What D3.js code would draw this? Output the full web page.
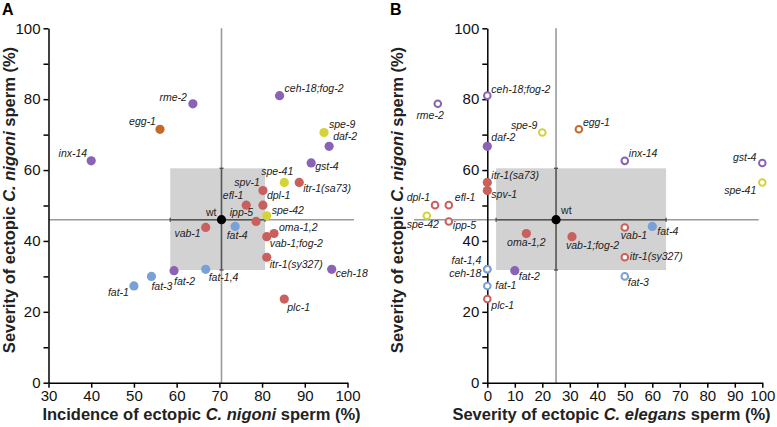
<!DOCTYPE html>
<html><head><meta charset="utf-8">
<script src="https://cdn.jsdelivr.net/npm/d3@7"></script>
<style>
html,body{margin:0;padding:0;background:#fff;}
svg{display:block;font-family:"Liberation Sans",Arial,Helvetica,sans-serif;}
</style></head>
<body><svg id="c" width="777" height="427"></svg>
<script>
// ---------- data ----------
const genes = ["wt","rme-2","egg-1","inx-14","ceh-18;fog-2","spe-9","daf-2","gst-4","spe-41","itr-1(sa73)","spv-1","efl-1","dpl-1","spe-42","ipp-5","vab-1","fat-4","oma-1,2","vab-1;fog-2","itr-1(sy327)","ceh-18","fat-1,4","fat-2","fat-3","fat-1","plc-1"];
const geneGroup = ["wt","g1","g2","g1","g1","g3","g1","g1","g3","g4","g4","g4","g4","g3","g4","g4","g5","g4","g4","g4","g1","g5","g1","g5","g5","g4"];
// Panel A x: incidence of ectopic C. nigoni sperm (%)
const incidenceNigoni = [70.5,63.8,56.1,40.0,84.1,94.5,95.7,91.5,85.2,88.7,80.2,76.3,80.2,81.1,78.6,66.8,73.7,82.8,81.1,81.1,96.3,66.8,59.4,54.1,50.0,85.2];
// y in both panels: severity of ectopic C. nigoni sperm (%)
const severityNigoni = [46.0,78.7,71.5,62.6,81.0,70.6,66.7,62.0,56.5,56.5,54.2,50.1,50.1,47.1,45.5,43.8,44.1,42.1,41.2,35.4,32.0,32.0,31.6,30.0,27.3,23.6];
// Panel B x: severity of ectopic C. elegans sperm (%)
const severityElegans = [25,-18,33.3,50,0,20,0,100,100,0,0,-14,-19,-22,-14,50,60,14.2,30.8,50,0,0,10,50,0,0];
const filledB = [1,0,0,0,0,0,1,0,0,1,1,0,0,0,0,0,1,1,1,0,0,0,1,0,0,0];
// wild-type spread boxes
const boxAX = [58.5,80.7], boxAY = [31.8,60.5];
const boxBX = [3.2,65.0],  boxBY = [31.8,60.5];
// reference line extents
const crossAX = [30,101.5], crossBX = [-26.6,98.7], crossY = [0,100];
const xTicksA = d3.range(30,101,10), xTicksB = d3.range(0,101,10), yTicks = d3.range(0,101,10);

// ---------- layout (label placement, not data) ----------
const labA = {"wt":["end",-5,-4],"rme-2":["end",-6,-3],"egg-1":["end",-4,-4],"inx-14":["end",-4,-4],"ceh-18;fog-2":["start",5,-4],"spe-9":["start",5,-4],"daf-2":["start",4,-6],"gst-4":["start",4,7],"spe-41":["end",9,-7],"itr-1(sa73)":["start",4,10],"spv-1":["end",-3,-5],"efl-1":["end",-3,-6],"dpl-1":["start",4,-6],"spe-42":["start",5,-2],"ipp-5":["end",-3,-5],"vab-1":["end",-5,10],"fat-4":["middle",2,13],"oma-1,2":["start",5,-2],"vab-1;fog-2":["start",3,10],"itr-1(sy327)":["start",3,11],"ceh-18":["start",4,8],"fat-1,4":["start",3,12],"fat-2":["start",0,14],"fat-3":["start",0,14],"fat-1":["end",-5,10],"plc-1":["start",3,12]};
const labB = {"wt":["start",5,-6],"rme-2":["end",6,15],"egg-1":["start",4,-3],"inx-14":["start",4,-4],"ceh-18;fog-2":["start",4,-3],"spe-9":["end",-5,-3],"daf-2":["start",4,-5],"gst-4":["end",-6,-2],"spe-41":["end",-6,12],"itr-1(sa73)":["start",4,-3],"spv-1":["start",4,7],"efl-1":["start",6,-4],"dpl-1":["end",-5,-4],"spe-42":["middle",-4,12.5],"ipp-5":["start",4,7.5],"vab-1":["start",-4,12],"fat-4":["start",5,9],"oma-1,2":["middle",0,13],"vab-1;fog-2":["start",-6,12],"itr-1(sy327)":["start",5,3],"ceh-18":["end",-6,8],"fat-1,4":["end",-6,-5],"fat-2":["start",4,9],"fat-3":["start",3,10],"fat-1":["start",8,3],"plc-1":["start",4,10]};

const color = d3.scaleOrdinal().domain(["wt","g1","g2","g3","g4","g5"])
  .range(["#000000","#8a63b6","#c4692a","#d3d33a","#c9605d","#77a1d8"]);

const svg = d3.select("#c");
const y = d3.scaleLinear().domain([0,100]).range([382.7,28.3]);
const xA = d3.scaleLinear().domain([30,100]).range([48.5,347.5]);
const xB = d3.scaleLinear().domain([0,100]).range([487.3,762.3]);

const data = genes.map((g,i)=>({g, grp:geneGroup[i], ax:incidenceNigoni[i], y:severityNigoni[i], bx:severityElegans[i], filled:!!filledB[i]}));

function panel(x, xKey, boxX, boxY, crossX, xTicks, lab, filledFn, r){
  const G = svg.append("g");
  const wt = data[0];
  G.append("rect").attr("x",x(boxX[0])).attr("y",y(boxY[1]))
   .attr("width",x(boxX[1])-x(boxX[0])).attr("height",y(boxY[0])-y(boxY[1]))
   .attr("fill","#d2d2d2");
  G.append("line").attr("x1",x(crossX[0])).attr("x2",x(crossX[1])).attr("y1",y(wt.y)).attr("y2",y(wt.y))
   .attr("stroke","#9a9a9a").attr("stroke-width",1.6);
  G.append("line").attr("x1",x(wt[xKey])).attr("x2",x(wt[xKey])).attr("y1",y(crossY[0])).attr("y2",y(crossY[1]))
   .attr("stroke","#9a9a9a").attr("stroke-width",1.6);
  const eb = G.append("g").attr("stroke","#555").attr("stroke-width",1.4);
  eb.append("line").attr("x1",x(boxX[0])).attr("x2",x(boxX[1])).attr("y1",y(wt.y)).attr("y2",y(wt.y));
  eb.append("line").attr("x1",x(wt[xKey])).attr("x2",x(wt[xKey])).attr("y1",y(boxY[0])).attr("y2",y(boxY[1]));
  [boxX[0],boxX[1]].forEach(v=>eb.append("line").attr("x1",x(v)).attr("x2",x(v)).attr("y1",y(wt.y)-2).attr("y2",y(wt.y)+2));
  [boxY[0],boxY[1]].forEach(v=>eb.append("line").attr("x1",x(wt[xKey])-2).attr("x2",x(wt[xKey])+2).attr("y1",y(v)).attr("y2",y(v)));
  const ax = G.append("g").attr("transform",`translate(0,${y(0)})`)
    .call(d3.axisBottom(x).tickValues(xTicks).tickSize(5).tickSizeOuter(0).tickPadding(3).tickFormat(d3.format("d")));
  const ay = G.append("g").attr("transform",`translate(${x(xKey==="ax"?30:0)},0)`)
    .call(d3.axisLeft(y).tickValues(yTicks).tickSize(5).tickSizeOuter(0).tickPadding(3).tickFormat(d=>d%20===0?d:""));
  [ax,ay].forEach(a=>{
    a.selectAll("path,line").attr("stroke","#000").attr("stroke-width",1.5);
    a.selectAll("text").attr("font-size",15).attr("fill","#111").attr("font-family",null);
  });
  const pts = data.filter(d=>d.g!=="wt").concat([wt]);
  G.selectAll("circle.p").data(pts).enter().append("circle")
    .attr("cx",d=>x(d[xKey])).attr("cy",d=>y(d.y))
    .attr("r",d=>filledFn(d)?r:3.3)
    .attr("fill",d=>filledFn(d)?color(d.grp):"#fff")
    .attr("stroke",d=>filledFn(d)?"none":color(d.grp))
    .attr("stroke-width",2);
  G.selectAll("text.l").data(data).enter().append("text")
    .attr("x",d=>x(d[xKey])+lab[d.g][1]).attr("y",d=>y(d.y)+lab[d.g][2])
    .attr("text-anchor",d=>lab[d.g][0])
    .attr("font-size",10.5)
    .attr("font-style",d=>d.g==="wt"?"normal":"italic")
    .attr("fill","#222")
    .text(d=>d.g);
  return G;
}
panel(xA,"ax",boxAX,boxAY,crossAX,xTicksA,labA,()=>true,4.6);
panel(xB,"bx",boxBX,boxBY,crossBX,xTicksB,labB,d=>d.filled||d.g==="wt",4.6);

function title(g, parts){ parts.forEach(p=>g.append("tspan").attr("font-style",p[1]?"italic":"normal").text(p[0])); }
const tf = 16.5;
title(svg.append("text").attr("x",201.5).attr("y",420).attr("text-anchor","middle").attr("font-weight","bold").attr("font-size",tf).attr("fill","#222"),
  [["Incidence of ectopic ",0],["C. nigoni",1],[" sperm (%)",0]]);
title(svg.append("text").attr("x",611.5).attr("y",420).attr("text-anchor","middle").attr("font-weight","bold").attr("font-size",tf).attr("fill","#222"),
  [["Severity of ectopic ",0],["C. elegans",1],[" sperm (%)",0]]);
title(svg.append("text").attr("transform","translate(15,200) rotate(-90)").attr("text-anchor","middle").attr("font-weight","bold").attr("font-size",tf).attr("fill","#222"),
  [["Severity of ectopic ",0],["C. nigoni",1],[" sperm (%)",0]]);
title(svg.append("text").attr("transform","translate(403,200) rotate(-90)").attr("text-anchor","middle").attr("font-weight","bold").attr("font-size",tf).attr("fill","#222"),
  [["Severity of ectopic ",0],["C. nigoni",1],[" sperm (%)",0]]);
svg.append("text").attr("x",2).attr("y",15).attr("font-weight","bold").attr("font-size",16).text("A");
svg.append("text").attr("x",390).attr("y",15).attr("font-weight","bold").attr("font-size",16).text("B");
</script></body></html>
